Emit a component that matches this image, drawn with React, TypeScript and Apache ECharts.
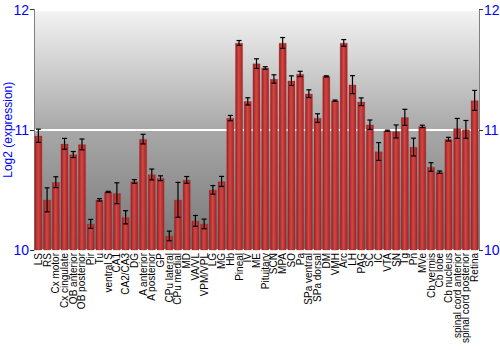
import React, { useEffect, useRef } from "react";
import * as echarts from "echarts";

const categories = [
  "LS", "RS", "Cx motor", "Cx cingulate", "OB anterior", "OB posterior", "Pir", "Tu",
  "ventral S", "CA1", "CA2/CA3", "DG", "A anterior", "A posterior", "GP", "CPu lateral",
  "CPu medial", "MD", "VA/VL", "VPM/VPL", "LG", "MG", "Hb", "Pineal", "IV", "ME",
  "Pituitary", "SCN", "MPA", "SO", "Pa", "SPa ventral", "SPa dorsal", "DM", "VMH", "Arc",
  "LH", "PAG", "SC", "IC", "VTA", "SN", "Tg", "Pn", "MVe", "Cb vermis", "Cb lobe",
  "Cb nucleus", "spinal cord anterior", "spinal cord posterior", "Retina",
];

const values = [
  10.95, 10.417, 10.564, 10.883, 10.794, 10.878, 10.217, 10.417,
  10.483, 10.472, 10.272, 10.57, 10.922, 10.628, 10.597, 10.117,
  10.417, 10.583, 10.242, 10.217, 10.5, 10.57, 11.097, 11.722, 11.236, 11.55,
  11.514, 11.422, 11.722, 11.408, 11.464, 11.3, 11.097, 11.444, 11.242, 11.722,
  11.375, 11.233, 11.042, 10.819, 10.992, 10.986, 11.103, 10.856, 11.028, 10.69, 10.647,
  10.922, 11.011, 11.003, 11.244,
];

const errors = [
  0.055, 0.1, 0.045, 0.045, 0.025, 0.045, 0.037, 0.01,
  0.005, 0.087, 0.055, 0.015, 0.04, 0.045, 0.02, 0.04,
  0.145, 0.028, 0.045, 0.04, 0.036, 0.042, 0.022, 0.02, 0.03, 0.04,
  0.01, 0.035, 0.045, 0.04, 0.022, 0.032, 0.036, 0.005, 0.005, 0.028,
  0.075, 0.032, 0.039, 0.074, 0.005, 0.054, 0.067, 0.074, 0.01, 0.036, 0.01,
  0.015, 0.083, 0.074, 0.083,
];

const yTicks = [10, 11, 12];

export default function App() {
  const ref = useRef<HTMLDivElement>(null);
  useEffect(() => {
    if (!ref.current) return;
    const chart = echarts.init(ref.current, null, { renderer: "svg" });
    const blue = "#0000ff";
    const font = "Liberation Sans, Arial, sans-serif";
    const errData = values.map((v, i) => [i, v - errors[i], v + errors[i]]);
    chart.setOption({
      animation: false,
      backgroundColor: "#ffffff",
      grid: {
        left: 34,
        right: 21,
        top: 9.5,
        bottom: 100,
        containLabel: false,
        outerBoundsMode: "none",
        show: true,
        borderWidth: 0,
        backgroundColor: new echarts.graphic.LinearGradient(0, 0, 0, 1, [
          { offset: 0, color: "#f4f4f4" },
          { offset: 0.5, color: "#a8a8a8" },
          { offset: 1, color: "#767676" },
        ]),
      },
      xAxis: {
        type: "category",
        data: categories,
        axisLine: { show: false },
        axisTick: { show: false },
        axisLabel: {
          interval: 0,
          rotate: 90,
          fontSize: 10,
          color: "#000000",
          fontFamily: font,
          margin: 3,
        },
      },
      yAxis: [
        {
          type: "value",
          min: yTicks[0],
          max: yTicks[yTicks.length - 1],
          interval: 1,
          position: "left",
          name: "Log2 (expression)",
          nameLocation: "middle",
          nameGap: 20,
          nameMoveOverlap: false,
          nameTextStyle: { color: blue, fontSize: 12, fontFamily: font },
          axisLine: { show: true, lineStyle: { color: "#808080", width: 1 } },
          axisTick: { show: true, length: 4, lineStyle: { color: "#333" } },
          axisLabel: { color: blue, fontSize: 14, margin: 5, fontFamily: font },
          splitLine: { show: true, lineStyle: { color: "#ffffff", width: 2 } },
        },
        {
          type: "value",
          min: yTicks[0],
          max: yTicks[yTicks.length - 1],
          interval: 1,
          position: "right",
          axisLine: { show: true, lineStyle: { color: "#808080", width: 1 } },
          axisTick: { show: true, length: 4, lineStyle: { color: "#333" } },
          axisLabel: { color: blue, fontSize: 14, margin: 5, fontFamily: font },
          splitLine: { show: false },
        },
      ],
      series: [
        {
          type: "bar",
          data: values,
          barWidth: 7.6,
          itemStyle: {
            color: new echarts.graphic.LinearGradient(0, 0, 1, 0, [
              { offset: 0, color: "#9e1c1c" },
              { offset: 0.45, color: "#d04848" },
              { offset: 1, color: "#a52222" },
            ]),
            borderColor: "rgba(150,30,30,0.5)",
            borderWidth: 0.5,
          },
        },
        {
          type: "custom",
          data: errData,
          z: 10,
          renderItem: (params: any, api: any) => {
            const x = api.value(0);
            const lo = api.coord([x, api.value(1)]);
            const hi = api.coord([x, api.value(2)]);
            const cx = lo[0];
            const hw = 2.5;
            const style = { stroke: "#000000", lineWidth: 1.2 };
            return {
              type: "group",
              children: [
                { type: "line", shape: { x1: cx, y1: lo[1], x2: cx, y2: hi[1] }, style },
                { type: "line", shape: { x1: cx - hw, y1: lo[1], x2: cx + hw, y2: lo[1] }, style },
                { type: "line", shape: { x1: cx - hw, y1: hi[1], x2: cx + hw, y2: hi[1] }, style },
              ],
            };
          },
        },
      ],
    });
    return () => chart.dispose();
  }, []);
  return (
    <div
      ref={ref}
      style={{ position: "fixed", left: 0, top: 0, width: 500, height: 350 }}
    />
  );
}
